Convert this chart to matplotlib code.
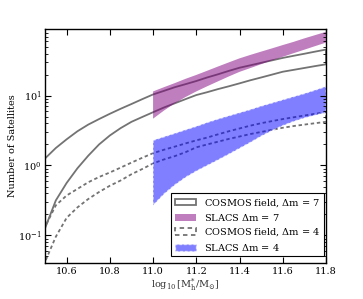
import matplotlib
matplotlib.use("Agg")
import matplotlib.pyplot as plt

plt.rcParams['font.family'] = ['DejaVu Serif']
plt.rcParams['mathtext.fontset'] = 'dejavuserif'
plt.rcParams['font.size'] = 7

# COSMOS field bands (log10 halo mass grid)
x_cos = [10.5, 10.55, 10.6, 10.65, 10.7, 10.75, 10.8, 10.85, 10.9, 10.95,
         11.0, 11.05, 11.1, 11.15, 11.2, 11.25, 11.3, 11.35, 11.4, 11.45,
         11.5, 11.55, 11.6, 11.65, 11.7, 11.75, 11.8]
cos7_hi = [1.26, 1.78, 2.37, 3.09, 3.85, 4.62, 5.50, 6.49, 7.59, 8.91,
           10.4, 11.7, 13.2, 14.6, 16.2, 18.2, 20.2, 22.6, 25.1, 27.2,
           29.5, 32.0, 34.7, 37.2, 39.8, 42.7, 45.7]
cos7_lo = [0.126, 0.316, 0.562, 0.912, 1.38, 2.0, 2.69, 3.43, 4.22, 4.95,
           5.79, 6.76, 7.76, 8.91, 10.2, 11.2, 12.4, 13.6, 15.0, 16.6,
           18.2, 20.0, 22.0, 23.4, 24.9, 26.5, 28.1]
cos4_hi = [0.132, 0.269, 0.372, 0.462, 0.575, 0.684, 0.794, 0.933, 1.10, 1.29,
           1.50, 1.68, 1.86, 2.07, 2.29, 2.51, 2.79, 3.09, 3.39, 3.72,
           4.03, 4.32, 4.62, 4.90, 5.19, 5.50, 5.82]
cos4_lo = [0.0417, 0.0955, 0.178, 0.251, 0.331, 0.417, 0.513, 0.610, 0.750, 0.891,
           1.07, 1.22, 1.36, 1.55, 1.82, 2.0, 2.19, 2.40, 2.60, 2.82,
           3.02, 3.24, 3.47, 3.67, 3.85, 4.03, 4.22]

# SLACS bands
x_sl = [11.0, 11.05, 11.1, 11.15, 11.2, 11.25, 11.3, 11.35, 11.4, 11.45,
        11.5, 11.55, 11.6, 11.65, 11.7, 11.75, 11.8]
sl7_hi = [11.5, 13.2, 15.1, 17.4, 19.8, 22.7, 26.1, 29.9, 34.2, 38.3,
          42.7, 47.5, 53.0, 58.9, 66.1, 73.6, 82.0]
sl7_lo = [4.68, 6.10, 7.76, 9.55, 11.5, 13.6, 16.0, 18.8, 21.9, 24.8,
          28.2, 32.0, 36.0, 40.5, 45.5, 51.2, 57.5]
sl4_hi = [2.29, 2.57, 2.88, 3.24, 3.63, 4.12, 4.62, 5.13, 5.69, 6.31,
          7.08, 7.85, 8.71, 9.66, 10.7, 12.0, 13.5]
sl4_lo = [0.269, 0.389, 0.525, 0.676, 0.832, 1.0, 1.20, 1.45, 1.76, 2.14,
          2.63, 3.16, 3.72, 4.27, 4.79, 5.25, 5.75]

labels = [r'COSMOS field, $\Delta$m = 7', r'SLACS $\Delta$m = 7',
          r'COSMOS field, $\Delta$m = 4', r'SLACS $\Delta$m = 4']

fig = plt.figure(figsize=(3.63, 2.99), dpi=100)
ax = fig.add_axes([0.124, 0.120, 0.774, 0.783])

gray = '0.45'
dash = (0, (1.9, 1.5))
h1 = ax.fill_between(x_cos, cos7_lo, cos7_hi, facecolor='none', edgecolor=gray,
                     lw=1.3, label=labels[0])
h2 = ax.fill_between(x_sl, sl7_lo, sl7_hi, facecolor=(0.5, 0, 0.5, 0.5),
                     lw=0, label=labels[1])
h3 = ax.fill_between(x_cos, cos4_lo, cos4_hi, facecolor='none', edgecolor=gray,
                     lw=1.3, linestyle=dash, label=labels[2])
h4 = ax.fill_between(x_sl, sl4_lo, sl4_hi, facecolor=(0, 0, 1, 0.5),
                     edgecolor=(1, 1, 1, 0.6), lw=1.0, linestyle=dash, label=labels[3])

ax.set_yscale('log')
ax.set_xlim(10.5, 11.8)
ax.set_ylim(0.04, 90)
ax.set_xticks([10.6, 10.8, 11.0, 11.2, 11.4, 11.6, 11.8])
ax.tick_params(which='both', direction='in', top=True, right=True, pad=2.5)
ax.tick_params(which='major', length=4)
ax.tick_params(which='minor', length=2)
for s in ax.spines.values():
    s.set_linewidth(1.0)

ax.set_ylabel('Number of Satellites', labelpad=1)
ax.set_xlabel(r'$\log_{10}[\mathrm{M}_{\mathrm{h}}^{*}/\mathrm{M}_{\odot}]$', color='0.2', labelpad=1)

leg = ax.legend(handles=[h1, h2, h3, h4], loc='lower right', bbox_to_anchor=(1.0, 0.02),
                fancybox=False, framealpha=1, edgecolor='black', borderaxespad=0.2,
                handlelength=2.2, labelspacing=0.35, borderpad=0.4)
leg.get_frame().set_linewidth(0.8)

fig.savefig('out.png', dpi=100)
